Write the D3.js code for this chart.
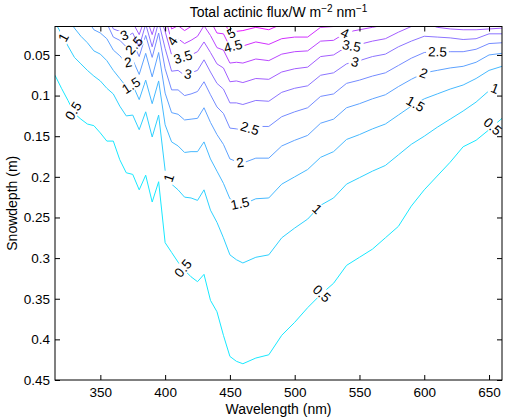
<!DOCTYPE html>
<html>
<head>
<meta charset="utf-8">
<script src="https://cdn.jsdelivr.net/npm/d3@7"></script>
<style>
  body { margin: 0; background: #fff; }
  text { font-family: "Liberation Sans", Arial, Helvetica, sans-serif; }
</style>
</head>
<body>
<svg id="chart" width="509" height="417"></svg>
<script>
// wavelength grid (nm) shared by every contour line
var wavelength = [315,320,325,330,335,340,345,350,355,360,365,370,375,380,385,390,395,400,405,410,
  415,420,425,430,435,440,445,450,455,460,470,480,490,500,510,520,530,540,550,560,
  570,580,590,600,610,620,630,640,650,660];

var levels = [0.5, 1, 1.5, 2, 2.5, 3, 3.5, 4, 4.5, 5];

// snow depth (m) where each flux level is reached, per wavelength
var depth05 = [0.075,0.091,0.106,0.122,0.129,0.135,0.137,0.146,0.156,0.156,0.179,0.195,0.197,0.216,0.198,0.231,0.206,0.281,0.293,0.305,
  0.315,0.323,0.329,0.320,0.352,0.366,0.395,0.421,0.427,0.430,0.423,0.419,0.395,0.379,0.361,0.345,0.331,0.309,0.299,0.289,
  0.275,0.261,0.236,0.216,0.199,0.182,0.163,0.155,0.142,0.128];
var depth1 = [0.010,0.024,0.039,0.053,0.061,0.069,0.076,0.082,0.091,0.098,0.113,0.125,0.124,0.142,0.120,0.151,0.124,0.192,0.209,0.216,
  0.225,0.226,0.229,0.216,0.241,0.256,0.275,0.296,0.302,0.306,0.299,0.296,0.275,0.263,0.252,0.235,0.226,0.209,0.201,0.193,
  0.186,0.173,0.160,0.150,0.139,0.129,0.119,0.108,0.094,0.088];
var depth15 = [-0.024,-0.010,0.005,0.017,0.027,0.035,0.045,0.049,0.057,0.069,0.079,0.089,0.087,0.105,0.081,0.110,0.082,0.136,0.157,0.162,
  0.170,0.169,0.169,0.157,0.178,0.193,0.208,0.227,0.231,0.234,0.227,0.226,0.209,0.200,0.191,0.176,0.169,0.154,0.148,0.141,
  0.135,0.124,0.113,0.104,0.098,0.092,0.087,0.079,0.069,0.064];
var depth2 = [-0.030,-0.030,-0.023,-0.011,-0.002,0.007,0.019,0.023,0.030,0.044,0.051,0.060,0.056,0.074,0.048,0.077,0.047,0.097,0.121,0.123,
  0.130,0.129,0.128,0.115,0.133,0.148,0.160,0.178,0.181,0.183,0.177,0.177,0.162,0.155,0.149,0.134,0.129,0.115,0.110,0.104,
  0.099,0.089,0.080,0.072,0.069,0.066,0.064,0.059,0.050,0.048];
var depth25 = [-0.030,-0.030,-0.030,-0.031,-0.021,-0.013,0.001,0.004,0.011,0.028,0.032,0.040,0.035,0.052,0.026,0.053,0.023,0.067,0.093,0.093,
  0.100,0.098,0.095,0.083,0.099,0.114,0.122,0.140,0.141,0.143,0.138,0.138,0.126,0.120,0.115,0.101,0.098,0.085,0.081,0.076,
  0.072,0.063,0.054,0.047,0.046,0.046,0.046,0.043,0.036,0.035];
var depth3 = [-0.030,-0.030,-0.030,-0.030,-0.033,-0.024,-0.010,-0.007,0.000,0.018,0.021,0.028,0.023,0.040,0.012,0.040,0.009,0.042,0.070,0.069,
  0.075,0.072,0.069,0.056,0.071,0.085,0.092,0.109,0.109,0.111,0.106,0.107,0.096,0.091,0.088,0.075,0.072,0.061,0.057,0.052,
  0.049,0.040,0.033,0.027,0.028,0.029,0.031,0.030,0.024,0.024];
var depth35 = [-0.030,-0.030,-0.030,-0.030,-0.030,-0.030,-0.018,-0.016,-0.009,0.010,0.011,0.014,0.010,0.025,0.002,0.025,-0.002,0.021,0.050,0.048,
  0.054,0.050,0.046,0.034,0.047,0.061,0.066,0.083,0.082,0.084,0.079,0.080,0.071,0.067,0.065,0.052,0.050,0.040,0.037,0.033,
  0.030,0.022,0.015,0.010,0.016,0.018,0.019,0.019,0.018,0.017];
var depth4 = [-0.030,-0.030,-0.030,-0.030,-0.030,-0.030,-0.030,-0.030,-0.016,0.003,0.004,0.008,0.005,0.012,-0.007,0.011,-0.011,0.003,0.033,0.030,
  0.036,0.032,0.027,0.014,0.026,0.041,0.044,0.060,0.059,0.060,0.055,0.057,0.049,0.046,0.045,0.033,0.032,0.022,0.019,0.016,
  0.013,0.006,0.000,-0.005,-0.002,0.003,0.008,0.009,0.006,0.007];
var depth45 = [-0.030,-0.030,-0.030,-0.030,-0.030,-0.030,-0.030,-0.030,-0.030,-0.002,-0.002,0.004,-0.002,0.005,-0.014,0.004,-0.019,-0.013,0.018,0.014,
  0.020,0.015,0.009,-0.003,0.008,0.023,0.024,0.040,0.038,0.039,0.034,0.037,0.030,0.028,0.028,0.016,0.015,0.006,0.004,0.001,
  -0.002,-0.009,-0.014,-0.018,-0.014,-0.008,-0.002,0.001,-0.003,-0.002];
var depth5 = [-0.030,-0.030,-0.030,-0.030,-0.030,-0.030,-0.030,-0.030,-0.030,-0.006,-0.007,-0.001,-0.007,-0.002,-0.019,-0.003,-0.024,-0.027,0.005,0.000,
  0.006,0.000,-0.006,-0.018,-0.009,0.006,0.007,0.024,0.021,0.020,0.016,0.019,0.012,0.012,0.012,0.000,0.000,-0.008,-0.010,-0.013,
  -0.015,-0.020,-0.020,-0.020,-0.020,-0.020,-0.020,-0.020,-0.020,-0.020];

var contourDepths = [depth05, depth1, depth15, depth2, depth25, depth3, depth35, depth4, depth45, depth5];

var xTicks = [350, 400, 450, 500, 550, 600, 650];
var yTicks = [0.05, 0.1, 0.15, 0.2, 0.25, 0.3, 0.35, 0.4, 0.45];

// [level, wavelength] where clabel put its numbers
var labelSpots = [
  [1, 321.5], [0.5, 329], [3, 368.5], [2, 371.5], [1.5, 373.7], [2.5, 376],
  [1, 402.7], [0.5, 413.8], [4, 405.5], [3.5, 413.8], [3, 417.6],
  [5, 451], [4.5, 452.4], [2, 457.8], [1.5, 457.8], [2.5, 465.5],
  [1, 517.4], [0.5, 521], [4, 538.8], [3.5, 543.9], [3, 546.5],
  [1.5, 593.3], [2, 599.5], [2.5, 610.2], [1, 654.6], [0.5, 652.9]
];

var plotL = 55, plotR = 502, plotT = 26.5, plotB = 380;
var svg = d3.select("#chart");

var x = d3.scaleLinear().domain([315, 660]).range([plotL, plotR]);
var y = d3.scaleLinear().domain([0.015, 0.45]).range([plotT, plotB]);
var cool = d3.interpolateRgb("rgb(0,255,255)", "rgb(255,0,255)");
var color = function(v){ return cool(v / 5.5); };

var defs = svg.append("defs");
defs.append("clipPath").attr("id", "plotclip")
  .append("rect").attr("x", plotL).attr("y", plotT)
  .attr("width", plotR - plotL).attr("height", plotB - plotT);

// one mask per level so a label only cuts its own line
var masks = levels.map(function(v, i){
  var m = defs.append("mask").attr("id", "gap" + i)
    .attr("maskUnits", "userSpaceOnUse")
    .attr("x", 0).attr("y", 0).attr("width", 509).attr("height", 417);
  m.append("rect").attr("width", 509).attr("height", 417).attr("fill", "#fff");
  return m;
});

var line = d3.line()
  .x(function(d, i){ return x(wavelength[i]); })
  .y(function(d){ return y(d); });

var lines = svg.append("g").attr("clip-path", "url(#plotclip)");
contourDepths.forEach(function(d, i){
  lines.append("path")
    .attr("d", line(d))
    .attr("fill", "none")
    .attr("stroke", color(levels[i]))
    .attr("stroke-width", 1)
    .attr("mask", "url(#gap" + i + ")");
});

function depthAt(d, wl){
  var i = d3.bisectRight(wavelength, wl) - 1;
  i = Math.max(0, Math.min(wavelength.length - 2, i));
  var t = (wl - wavelength[i]) / (wavelength[i+1] - wavelength[i]);
  return d[i] + t * (d[i+1] - d[i]);
}

// contour labels (matlab rotates them as if the y axis was not reversed)
var labels = svg.append("g");
labelSpots.forEach(function(s){
  var li = levels.indexOf(s[0]), d = contourDepths[li];
  var px = x(s[1]), py = y(depthAt(d, s[1]));
  var dx = x(s[1] + 4) - x(s[1] - 4);
  var dy = y(depthAt(d, s[1] + 4)) - y(depthAt(d, s[1] - 4));
  var ang = -Math.atan2(dy, dx) * 180 / Math.PI;
  var tr = "translate(" + px + "," + py + ") rotate(" + ang + ")";
  var t = labels.append("text")
    .attr("transform", tr)
    .attr("text-anchor", "middle")
    .attr("dy", "0.35em")
    .attr("font-size", 13.5)
    .attr("fill", "#000")
    .text(String(s[0]));
  var w = t.node().getComputedTextLength();
  masks[li].append("rect")
    .attr("transform", tr)
    .attr("x", -w / 2 - 2).attr("y", -6)
    .attr("width", w + 4).attr("height", 12)
    .attr("fill", "#000");
});

// axes, ticks inside on all four sides
function styleAxis(g){
  g.select(".domain").remove();
  g.selectAll(".tick line").attr("stroke", "#000");
  g.selectAll("text").attr("font-size", 13.5).attr("fill", "#000")
    .attr("font-family", "Liberation Sans, Arial, Helvetica, sans-serif");
}
svg.append("g").attr("transform", "translate(0," + plotB + ")")
  .call(d3.axisBottom(x).tickValues(xTicks).tickSizeInner(-5).tickSizeOuter(0).tickPadding(7))
  .call(styleAxis);
svg.append("g").attr("transform", "translate(0," + plotT + ")")
  .call(d3.axisTop(x).tickValues(xTicks).tickSizeInner(-5).tickSizeOuter(0).tickFormat(""))
  .call(styleAxis);
svg.append("g").attr("transform", "translate(" + plotL + ",0)")
  .call(d3.axisLeft(y).tickValues(yTicks).tickSizeInner(-5).tickSizeOuter(0).tickPadding(5)
    .tickFormat(d3.format(".2~f")))
  .call(styleAxis);
svg.append("g").attr("transform", "translate(" + plotR + ",0)")
  .call(d3.axisRight(y).tickValues(yTicks).tickSizeInner(-5).tickSizeOuter(0).tickFormat(""))
  .call(styleAxis);

svg.append("rect")
  .attr("x", plotL).attr("y", plotT)
  .attr("width", plotR - plotL).attr("height", plotB - plotT)
  .attr("fill", "none").attr("stroke", "#000").attr("stroke-width", 1);

// titles
svg.append("text")
  .attr("x", (plotL + plotR) / 2).attr("y", 413.5)
  .attr("text-anchor", "middle").attr("font-size", 14)
  .text("Wavelength (nm)");

svg.append("text")
  .attr("transform", "translate(17," + (plotT + plotB) / 2 + ") rotate(-90)")
  .attr("text-anchor", "middle").attr("font-size", 14)
  .text("Snowdepth (m)");

var title = svg.append("text")
  .attr("x", (plotL + plotR) / 2).attr("y", 17)
  .attr("text-anchor", "middle").attr("font-size", 14);
title.append("tspan").text("Total actinic flux/W m");
title.append("tspan").attr("dy", -5).attr("font-size", 10).text("\u22122");
title.append("tspan").attr("dy", 5).text(" nm");
title.append("tspan").attr("dy", -5).attr("font-size", 10).text("\u22121");
</script>
</body>
</html>
